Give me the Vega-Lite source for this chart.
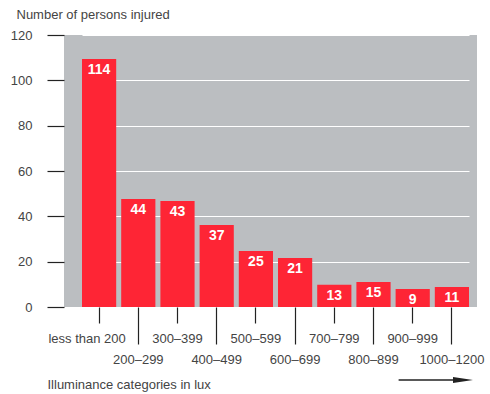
{
  "$schema": "https://vega.github.io/schema/vega-lite/v6.json",
  "width": 413,
  "height": 272,
  "autosize": "none",
  "padding": {"left": 64, "top": 35, "right": 13, "bottom": 87},
  "background": "white",
  "config": {
    "font": "Liberation Sans",
    "view": {"fill": "#bbbec1", "stroke": null}
  },
  "data": {
    "values": [
      {"category": "less than 200", "value": 109.4, "label": "114"},
      {"category": "200–299", "value": 47.6, "label": "44"},
      {"category": "300–399", "value": 46.8, "label": "43"},
      {"category": "400–499", "value": 36.2, "label": "37"},
      {"category": "500–599", "value": 24.7, "label": "25"},
      {"category": "600–699", "value": 21.6, "label": "21"},
      {"category": "700–799", "value": 9.8, "label": "13"},
      {"category": "800–899", "value": 11.0, "label": "15"},
      {"category": "900–999", "value": 7.9, "label": "9"},
      {"category": "1000–1200", "value": 8.8, "label": "11"}
    ]
  },
  "layer": [
    {
      "mark": {"type": "bar", "color": "#fe2535"},
      "encoding": {
        "x": {
          "field": "category",
          "type": "nominal",
          "sort": null,
          "scale": {
            "domain": ["less than 200", "200–299", "300–399", "400–499", "500–599", "600–699", "700–799", "800–899", "900–999", "1000–1200"],
            "range": [18, 405],
            "paddingInner": 0.128,
            "paddingOuter": 0
          },
          "axis": {
            "title": "Illuminance categories in lux",
            "titleX": -17,
            "titleY": 81,
            "titleAlign": "left",
            "titleAnchor": null,
            "titleBaseline": "alphabetic",
            "titleFontWeight": "normal",
            "titleFontSize": 13,
            "titleColor": "#444",
            "domain": false,
            "labelAngle": 0,
            "labelFontSize": 13,
            "labelColor": "#444",
            "labelBaseline": "top",
            "labelOverlap": false,
            "labelPadding": 9,
            "tickColor": "#222",
            "tickWidth": 1.2,
            "tickSize": {
              "condition": {"test": "indexof(['200–299','400–499','600–699','800–899','1000–1200'], datum.value) >= 0", "value": 37},
              "value": 16
            },
            "labelOffset": {
              "condition": {"test": "datum.value === 'less than 200'", "value": -12},
              "value": 0
            }
          }
        },
        "y": {
          "field": "value",
          "type": "quantitative",
          "scale": {"domain": [0, 120], "nice": false},
          "axis": {
            "title": "Number of persons injured",
            "titleAngle": 0,
            "titleX": -48,
            "titleY": -17,
            "titleAlign": "left",
            "titleAnchor": null,
            "titleBaseline": "alphabetic",
            "titleFontWeight": "normal",
            "titleFontSize": 13,
            "titleColor": "#444",
            "domain": false,
            "values": [0, 20, 40, 60, 80, 100, 120],
            "tickColor": "#222",
            "tickWidth": 1.2,
            "tickSize": 17,
            "labelPadding": 15,
            "labelFontSize": 13,
            "labelColor": "#444",
            "gridColor": "white",
            "gridWidth": 1.2
          }
        }
      }
    },
    {
      "mark": {"type": "text", "color": "white", "fontWeight": "bold", "fontSize": 14, "baseline": "alphabetic", "dy": 15},
      "encoding": {
        "x": {"field": "category", "type": "nominal", "sort": null},
        "y": {"field": "value", "type": "quantitative"},
        "text": {"field": "label"}
      }
    },
    {
      "data": {"values": [{}]},
      "mark": {"type": "rule", "color": "#222", "strokeWidth": 1.5, "xOffset": 3, "x2Offset": -6},
      "encoding": {
        "x": {"datum": "900–999", "type": "nominal", "bandPosition": 0},
        "x2": {"datum": "1000–1200", "bandPosition": 1},
        "y": {"datum": -32.2, "type": "quantitative"}
      }
    },
    {
      "data": {"values": [{}]},
      "mark": {"type": "point", "shape": "M-1,-0.3L1,0L-1,0.3Z", "filled": true, "color": "#222", "opacity": 1, "size": 400, "xOffset": -6},
      "encoding": {
        "x": {"datum": "1000–1200", "type": "nominal", "bandPosition": 1},
        "y": {"datum": -32.2, "type": "quantitative"}
      }
    }
  ]
}
